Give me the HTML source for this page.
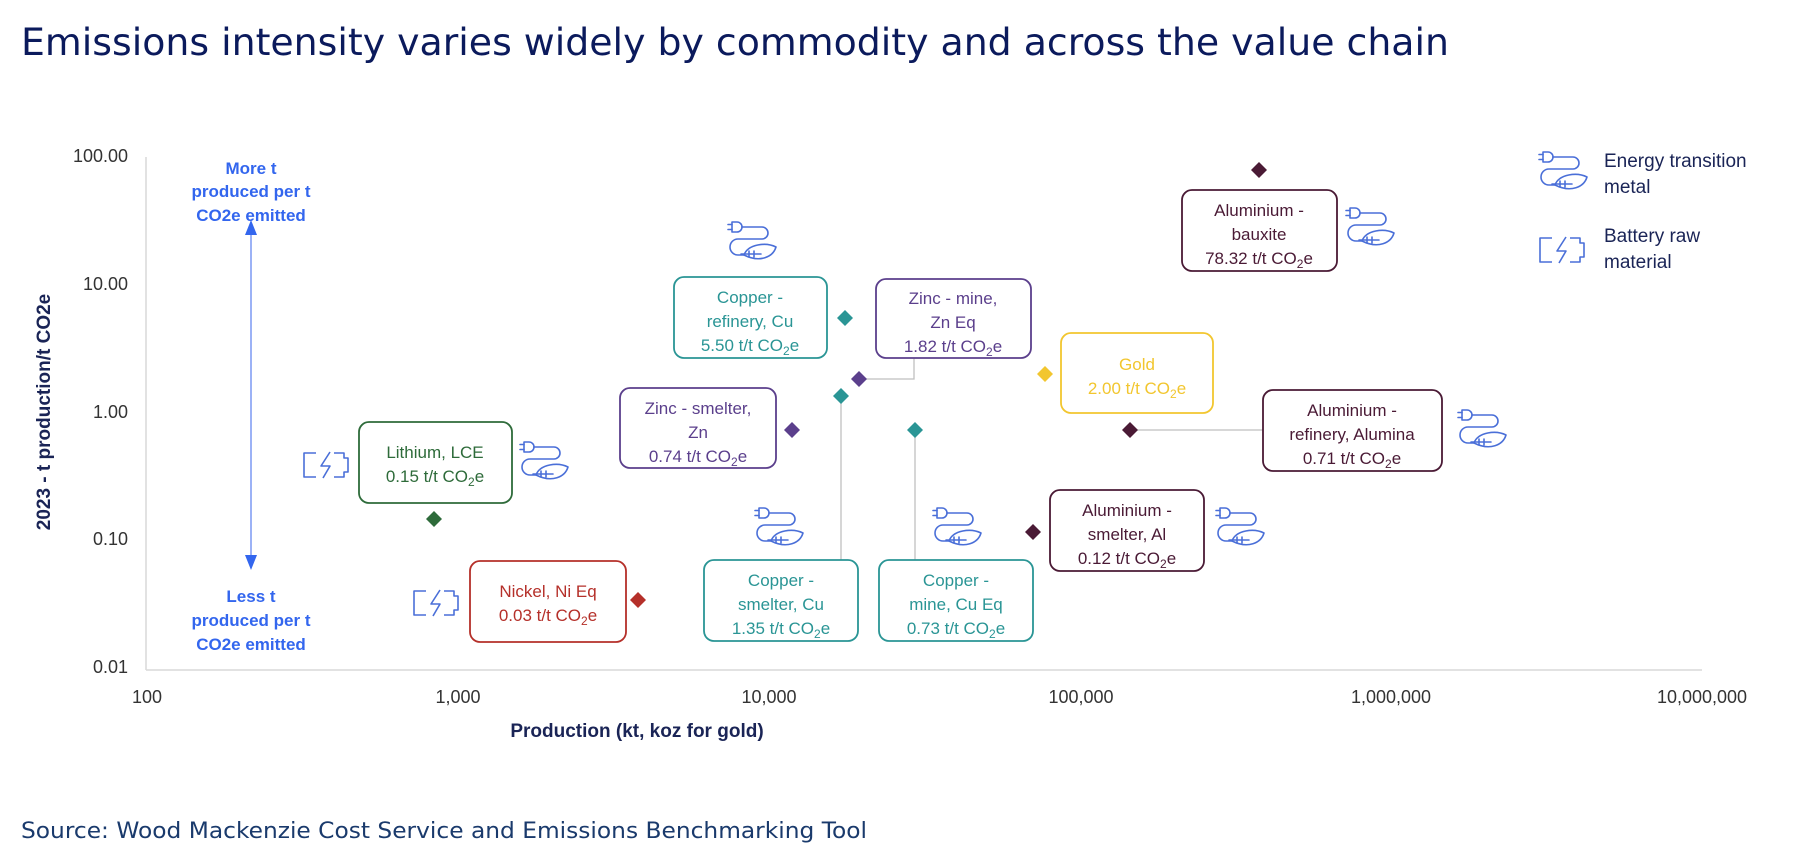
<!DOCTYPE html>
<html><head><meta charset="utf-8">
<style>
html,body{margin:0;padding:0;background:#fff;width:1800px;height:868px;overflow:hidden}
svg{display:block}
text{font-family:"Liberation Sans",Arial,sans-serif}
</style></head>
<body>
<svg width="1800" height="868" viewBox="0 0 1800 868" xmlns="http://www.w3.org/2000/svg">
<defs>
<symbol id="en" viewBox="0 0 52 42" overflow="visible">
<g fill="none" stroke="#4a6fd8" stroke-width="1.6" stroke-linecap="round" stroke-linejoin="round">
<path d="M5 2 h5 a5 5 0 0 1 0 10 h-5 z"/>
<path d="M1 4.5 h4 M1 9.5 h4"/>
<path d="M15 7 h20 a6 6 0 0 1 0 12 h-24 a8 8 0 0 0 0 16 h6"/>
<path d="M17 35 c4 -11 22 -13 32 -8 c-3 10 -16 16 -32 8 z"/>
<path d="M14 34 h20 M22 31 v6 M27 31 v6"/>
</g></symbol>
<symbol id="bat" viewBox="0 0 50 28" overflow="visible">
<g fill="none" stroke="#4a6fd8" stroke-width="1.6" stroke-linejoin="round">
<path d="M14 2 h-12 v24 h12"/>
<path d="M32 2 h10 v5 h4 v14 h-4 v5 h-10"/>
<path d="M28 1 l-9 14 h9 l-7 12"/>
</g></symbol>
</defs>

<text x="21" y="55" font-size="37" fill="#0b1a5c" style="font-family:'DejaVu Sans','Liberation Sans',sans-serif" textLength="1428" lengthAdjust="spacingAndGlyphs">Emissions intensity varies widely by commodity and across the value chain</text>

<!-- axes -->
<line x1="146" y1="157" x2="146" y2="670" stroke="#d9d9d9" stroke-width="1.5"/>
<line x1="146" y1="670" x2="1702" y2="670" stroke="#d9d9d9" stroke-width="1.5"/>
<g font-size="18" fill="#333" text-anchor="end">
<text x="128" y="162">100.00</text>
<text x="128" y="290">10.00</text>
<text x="128" y="418">1.00</text>
<text x="128" y="545">0.10</text>
<text x="128" y="673">0.01</text>
</g>
<g font-size="18" fill="#333" text-anchor="middle">
<text x="147" y="703">100</text>
<text x="458" y="703">1,000</text>
<text x="769" y="703">10,000</text>
<text x="1081" y="703">100,000</text>
<text x="1391" y="703">1,000,000</text>
<text x="1702" y="703">10,000,000</text>
</g>
<text x="637" y="737" font-size="19" font-weight="bold" fill="#1a2456" text-anchor="middle">Production (kt, koz for gold)</text>
<text transform="translate(50,412) rotate(-90)" font-size="19" font-weight="bold" fill="#1a2456" text-anchor="middle">2023 - t production/t CO2e</text>

<!-- arrow -->
<g fill="#3366ee" font-size="17" font-weight="bold" text-anchor="middle">
<text x="251" y="174">More t</text>
<text x="251" y="197">produced per t</text>
<text x="251" y="221">CO2e emitted</text>
<text x="251" y="602">Less t</text>
<text x="251" y="626">produced per t</text>
<text x="251" y="650">CO2e emitted</text>
</g>
<line x1="251" y1="232" x2="251" y2="558" stroke="#5b7ff0" stroke-width="1.2"/>
<path d="M245 235 L251 220 L257 235 Z" fill="#3366ee"/>
<path d="M245 555 L251 570 L257 555 Z" fill="#3366ee"/>

<!-- connector lines -->
<g stroke="#bfbfbf" stroke-width="1.3" fill="none">
<path d="M866 379 H914 V358"/>
<path d="M841 396 V560"/>
<path d="M915 430 V560"/>
<path d="M1130 430 H1263"/>
</g>

<!-- diamonds -->
<g>
<path d="M1259 162 l8 8 l-8 8 l-8 -8z" fill="#4a1a35"/>
<path d="M845 310 l8 8 l-8 8 l-8 -8z" fill="#2a9595"/>
<path d="M859 371 l8 8 l-8 8 l-8 -8z" fill="#5b3f8c"/>
<path d="M1045 366 l8 8 l-8 8 l-8 -8z" fill="#f2c62f"/>
<path d="M841 388 l8 8 l-8 8 l-8 -8z" fill="#2a9595"/>
<path d="M792 422 l8 8 l-8 8 l-8 -8z" fill="#5b3f8c"/>
<path d="M915 422 l8 8 l-8 8 l-8 -8z" fill="#2a9595"/>
<path d="M1130 422 l8 8 l-8 8 l-8 -8z" fill="#4a1a35"/>
<path d="M434 511 l8 8 l-8 8 l-8 -8z" fill="#2e6b3a"/>
<path d="M638 592 l8 8 l-8 8 l-8 -8z" fill="#b5302a"/>
<path d="M1033 524 l8 8 l-8 8 l-8 -8z" fill="#4a1a35"/>
</g>

<!-- boxes -->
<g fill="#fff" stroke-width="1.8">
<rect x="1182" y="190" width="155" height="81" rx="10" stroke="#4a1a35"/>
<rect x="674" y="277" width="153" height="81" rx="10" stroke="#2a9595"/>
<rect x="876" y="279" width="155" height="79" rx="10" stroke="#5b3f8c"/>
<rect x="1061" y="333" width="152" height="80" rx="10" stroke="#f2c62f"/>
<rect x="704" y="560" width="154" height="81" rx="10" stroke="#2a9595"/>
<rect x="620" y="388" width="156" height="80" rx="10" stroke="#5b3f8c"/>
<rect x="879" y="560" width="154" height="81" rx="10" stroke="#2a9595"/>
<rect x="1263" y="390" width="179" height="81" rx="10" stroke="#4a1a35"/>
<rect x="359" y="422" width="153" height="81" rx="10" stroke="#2e6b3a"/>
<rect x="470" y="561" width="156" height="81" rx="10" stroke="#b5302a"/>
<rect x="1050" y="490" width="154" height="81" rx="10" stroke="#4a1a35"/>
</g>
<g font-size="17" text-anchor="middle">
<g fill="#4a1a35"><text x="1259" y="216">Aluminium -</text><text x="1259" y="240">bauxite</text><text x="1259" y="264">78.32 t/t CO<tspan font-size="12" dy="4">2</tspan><tspan dy="-4">e</tspan></text></g>
<g fill="#2a9595"><text x="750" y="303">Copper -</text><text x="750" y="327">refinery, Cu</text><text x="750" y="351">5.50 t/t CO<tspan font-size="12" dy="4">2</tspan><tspan dy="-4">e</tspan></text></g>
<g fill="#5b3f8c"><text x="953" y="304">Zinc - mine,</text><text x="953" y="328">Zn Eq</text><text x="953" y="352">1.82 t/t CO<tspan font-size="12" dy="4">2</tspan><tspan dy="-4">e</tspan></text></g>
<g fill="#f2c62f"><text x="1137" y="370">Gold</text><text x="1137" y="394">2.00 t/t CO<tspan font-size="12" dy="4">2</tspan><tspan dy="-4">e</tspan></text></g>
<g fill="#2a9595"><text x="781" y="586">Copper -</text><text x="781" y="610">smelter, Cu</text><text x="781" y="634">1.35 t/t CO<tspan font-size="12" dy="4">2</tspan><tspan dy="-4">e</tspan></text></g>
<g fill="#5b3f8c"><text x="698" y="414">Zinc - smelter,</text><text x="698" y="438">Zn</text><text x="698" y="462">0.74 t/t CO<tspan font-size="12" dy="4">2</tspan><tspan dy="-4">e</tspan></text></g>
<g fill="#2a9595"><text x="956" y="586">Copper -</text><text x="956" y="610">mine, Cu Eq</text><text x="956" y="634">0.73 t/t CO<tspan font-size="12" dy="4">2</tspan><tspan dy="-4">e</tspan></text></g>
<g fill="#4a1a35"><text x="1352" y="416">Aluminium -</text><text x="1352" y="440">refinery, Alumina</text><text x="1352" y="464">0.71 t/t CO<tspan font-size="12" dy="4">2</tspan><tspan dy="-4">e</tspan></text></g>
<g fill="#2e6b3a"><text x="435" y="458">Lithium, LCE</text><text x="435" y="482">0.15 t/t CO<tspan font-size="12" dy="4">2</tspan><tspan dy="-4">e</tspan></text></g>
<g fill="#b5302a"><text x="548" y="597">Nickel, Ni Eq</text><text x="548" y="621">0.03 t/t CO<tspan font-size="12" dy="4">2</tspan><tspan dy="-4">e</tspan></text></g>
<g fill="#4a1a35"><text x="1127" y="516">Aluminium -</text><text x="1127" y="540">smelter, Al</text><text x="1127" y="564">0.12 t/t CO<tspan font-size="12" dy="4">2</tspan><tspan dy="-4">e</tspan></text></g>
</g>

<!-- icons -->
<use href="#en" x="1345" y="206" width="52" height="42"/>
<use href="#en" x="727" y="220" width="52" height="42"/>
<use href="#en" x="754" y="506" width="52" height="42"/>
<use href="#en" x="932" y="506" width="52" height="42"/>
<use href="#en" x="1457" y="408" width="52" height="42"/>
<use href="#en" x="519" y="440" width="52" height="42"/>
<use href="#en" x="1215" y="506" width="52" height="42"/>
<use href="#en" x="1538" y="150" width="52" height="42"/>
<use href="#bat" x="302" y="451" width="50" height="28"/>
<use href="#bat" x="412" y="589" width="50" height="28"/>
<use href="#bat" x="1538" y="236" width="50" height="28"/>

<g font-size="19" fill="#1a2456">
<text x="1604" y="167">Energy transition</text>
<text x="1604" y="193">metal</text>
<text x="1604" y="242">Battery raw</text>
<text x="1604" y="268">material</text>
</g>

<text x="21" y="838" font-size="22" fill="#1a3a6c" style="font-family:'DejaVu Sans','Liberation Sans',sans-serif" textLength="846" lengthAdjust="spacingAndGlyphs">Source: Wood Mackenzie Cost Service and Emissions Benchmarking Tool</text>
</svg>
</body></html>
